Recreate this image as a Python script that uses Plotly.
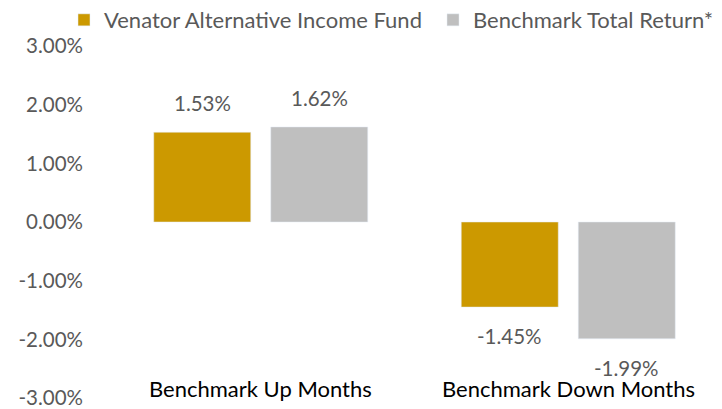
import plotly.graph_objects as go

categories = ["Benchmark Up Months", "Benchmark Down Months"]
fund_name = "Venator Alternative Income Fund"
bench_name = "Benchmark Total Return*"
fund_values = [1.53, -1.45]
bench_values = [1.62, -1.99]
y_ticks = [-3, -2, -1, 0, 1, 2, 3]
y_tick_labels = [f"{v:.2f}%" for v in y_ticks]

FONT = "Lato"
TXT = "#595959"
NUM_SIZE = 20.5
TXT_SIZE = 22

W, H = 722, 409
ML, MR, MT, MB = 107, 0, 46, 11
BARGAP, GROUPGAP = 0.239, 0.171

fig = go.Figure()
fig.add_trace(go.Bar(x=categories, y=fund_values, name=fund_name,
                     marker_color="#CC9900", legend="legend"))
fig.add_trace(go.Bar(x=categories, y=bench_values, name=bench_name,
                     marker_color="#BFBFBF", legend="legend2"))

# data labels placed relative to each bar's end (offset in pixels from the bar)
cat_px = (W - ML - MR) / len(categories)
slot_px = cat_px * (1 - BARGAP) / 2
for idx, vals in enumerate([fund_values, bench_values]):
    xs = (idx - 0.5) * slot_px
    for c, v in zip(categories, vals):
        fig.add_annotation(x=c, y=v, text=f"{v:.2f}%", showarrow=False,
                           xshift=xs, yshift=29 if v >= 0 else -29,
                           font=dict(size=NUM_SIZE, color=TXT, family=FONT))

for c in categories:
    fig.add_annotation(x=c, y=0, yref="paper", yanchor="middle", yshift=10,
                       text=c, showarrow=False,
                       font=dict(size=TXT_SIZE, color="#000000", family=FONT))

legend_common = dict(orientation="h", xref="container", yref="container",
                     y=0.951, xanchor="left", yanchor="middle",
                     font=dict(size=TXT_SIZE, color=TXT, family=FONT),
                     itemwidth=30, bgcolor="rgba(0,0,0,0)")

fig.update_layout(
    width=W, height=H,
    margin=dict(l=ML, r=MR, t=MT, b=MB, autoexpand=False),
    paper_bgcolor="white", plot_bgcolor="white",
    barmode="group", bargap=BARGAP, bargroupgap=GROUPGAP,
    font=dict(family=FONT, size=TXT_SIZE, color=TXT),
    showlegend=True,
    legend=dict(x=64 / W, **legend_common),
    legend2=dict(x=433 / W, **legend_common),
    xaxis=dict(showticklabels=False, showline=False, showgrid=False, zeroline=False),
    yaxis=dict(range=[-3, 3], tickvals=y_ticks, ticktext=y_tick_labels,
               showgrid=False, zeroline=False, showline=False,
               ticklabelstandoff=23, ticklabeloverflow="allow",
               tickfont=dict(size=NUM_SIZE, color=TXT, family=FONT)),
)

fig.write_html("out.html", config={"displayModeBar": False},
               post_script="document.body.style.margin='0';")
